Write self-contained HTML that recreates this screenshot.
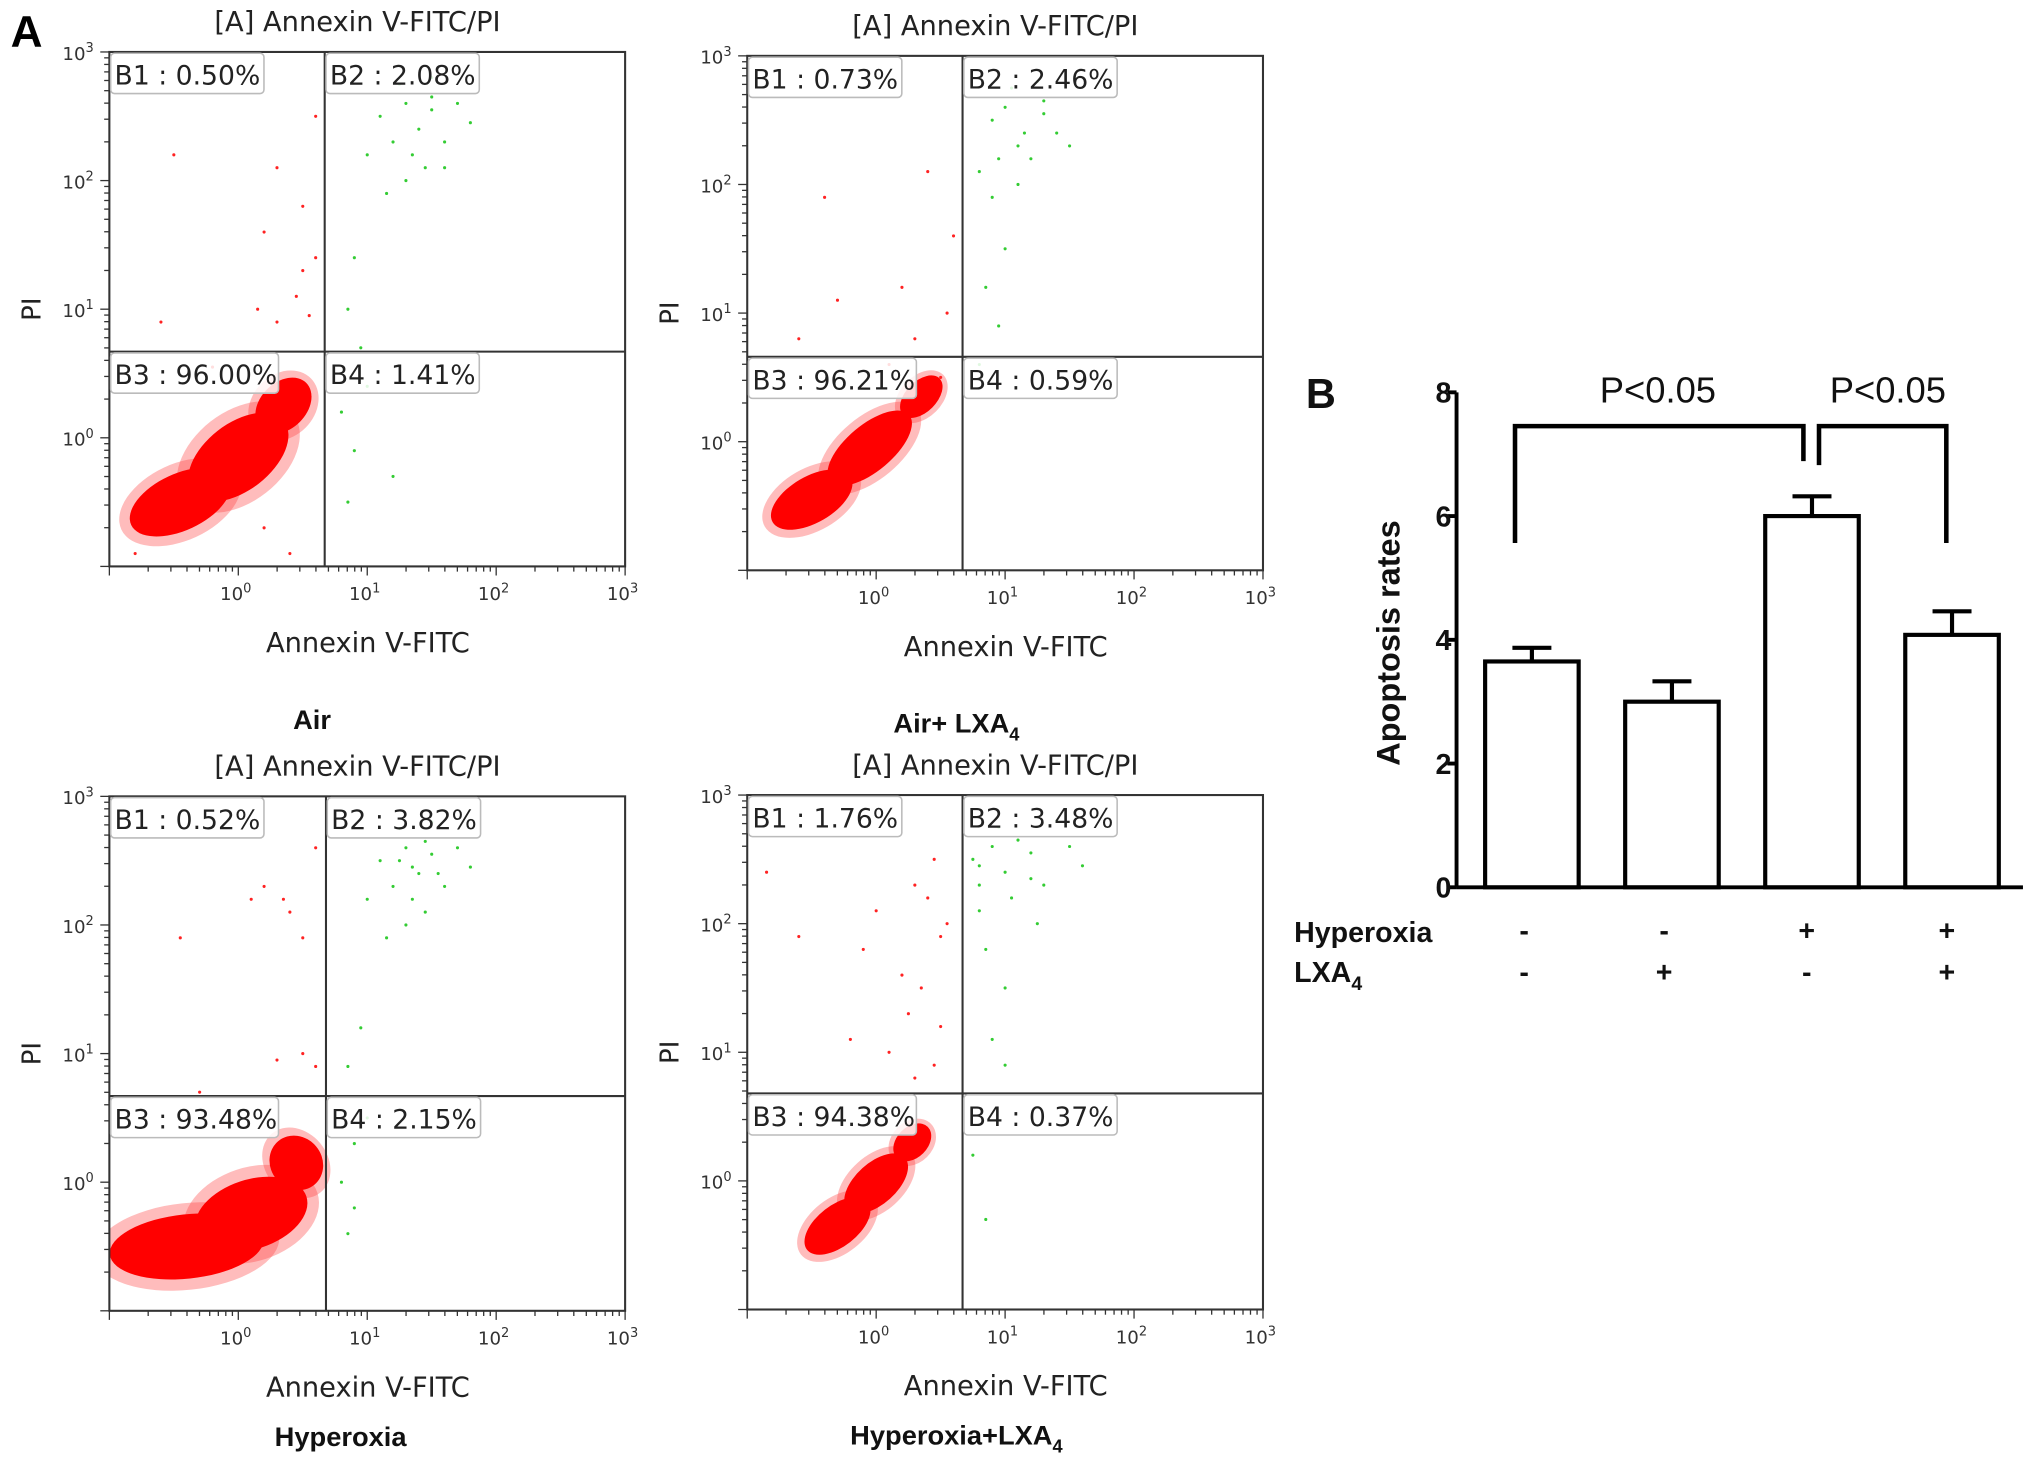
<!DOCTYPE html>
<html><head><meta charset="utf-8">
<style>
html,body{margin:0;padding:0;background:#fff;}
svg{display:block;}
.fl{font-family:"DejaVu Sans","Liberation Sans",sans-serif;}
.ar{font-family:"Liberation Sans",Arial,sans-serif;}
</style></head>
<body>
<svg id="fig" width="2031" height="1468" viewBox="0 0 1563 1130" xmlns="http://www.w3.org/2000/svg">
<defs><clipPath id="plotclip"><rect x="84" y="40" width="397" height="396"/></clipPath></defs>
<rect width="1563" height="1130" fill="#fff"/>
<text x="8" y="36" class="ar" font-size="34" font-weight="bold">A</text>
<g id="flows"></g>
<g id="bars"></g>
</svg>
<script>
// ---------- Flow cytometry panels ----------
var panelOffsets = [[0,0],[491,3],[0,573],[491,572]];
var panelGroupNames = ["Air","Air+ LXA","Hyperoxia","Hyperoxia+LXA"];
var panelGroupSub = ["","4","","4"];
var quadB1 = ["B1 : 0.50%","B1 : 0.73%","B1 : 0.52%","B1 : 1.76%"];
var quadB2 = ["B2 : 2.08%","B2 : 2.46%","B2 : 3.82%","B2 : 3.48%"];
var quadB3 = ["B3 : 96.00%","B3 : 96.21%","B3 : 93.48%","B3 : 94.38%"];
var quadB4 = ["B4 : 1.41%","B4 : 0.59%","B4 : 2.15%","B4 : 0.37%"];
var gateX = [0.67,0.67,0.68,0.67];
var gateY = [0.67,0.66,0.67,0.68];
// cloud ellipses: [log x, log y, rx(log), ry(log), rotation deg]
var clouds = [
 [[-0.45,-0.5,0.42,0.22,-25],[0.0,-0.15,0.45,0.26,-38],[0.35,0.25,0.25,0.18,-45]],
 [[-0.5,-0.45,0.35,0.18,-30],[-0.05,-0.05,0.4,0.18,-40],[0.35,0.35,0.2,0.12,-45]],
 [[-0.4,-0.5,0.6,0.25,-6],[0.1,-0.25,0.45,0.27,-18],[0.45,0.15,0.2,0.22,-40]],
 [[-0.3,-0.35,0.3,0.16,-38],[0.0,-0.02,0.3,0.16,-42],[0.28,0.3,0.17,0.12,-45]]
];
var redPts = [
 [[-0.5,2.2],[0.3,2.1],[0.5,1.8],[0.2,1.6],[0.6,1.4],[0.45,1.1],[0.3,0.9],[0.55,0.95],[-0.6,0.9],[0.6,2.5],[0.15,1.0],[-0.2,0.55],[0.5,1.3],[-0.8,-0.9],[0.4,-0.9],[0.2,-0.7]],
 [[-0.4,1.9],[0.4,2.1],[0.2,1.2],[0.55,1.0],[0.3,0.8],[-0.3,1.1],[0.6,1.6],[0.1,0.6],[0.5,0.5],[-0.6,0.8]],
 [[-0.45,1.9],[0.2,2.3],[0.4,2.1],[0.35,2.2],[0.5,1.9],[0.6,2.6],[0.3,0.95],[0.5,1.0],[0.6,0.9],[-0.3,0.7],[0.1,2.2]],
 [[-0.85,2.4],[-0.6,1.9],[0.0,2.1],[0.3,2.3],[0.4,2.2],[0.5,1.9],[0.45,2.5],[0.2,1.6],[0.25,1.3],[0.1,1.0],[0.45,0.9],[0.35,1.5],[-0.2,1.1],[0.55,2.0],[0.3,0.8],[0.5,1.2],[-0.1,1.8]]
];
var greenPts = [
 [[1.1,2.5],[1.3,2.6],[1.4,2.4],[1.5,2.55],[1.2,2.3],[1.35,2.2],[1.6,2.3],[1.7,2.6],[1.25,2.75],[1.5,2.8],[1.0,2.2],[1.45,2.1],[1.8,2.45],[1.15,1.9],[1.3,2.0],[0.9,1.4],[0.85,1.0],[0.95,0.7],[0.8,0.2],[0.9,-0.1],[1.0,0.4],[1.2,-0.3],[0.85,-0.5],[1.5,2.65],[1.6,2.1]],
 [[0.9,2.5],[1.0,2.6],[1.15,2.4],[1.3,2.55],[1.1,2.3],[0.95,2.2],[1.2,2.2],[1.4,2.4],[1.05,2.75],[1.25,2.8],[0.8,2.1],[1.5,2.3],[0.9,1.9],[1.0,1.5],[0.85,1.2],[0.95,0.9],[0.8,0.6],[1.1,2.0],[1.3,2.65]],
 [[1.1,2.5],[1.3,2.6],[1.4,2.4],[1.5,2.55],[1.2,2.3],[1.35,2.2],[1.6,2.3],[1.7,2.6],[1.25,2.75],[1.5,2.8],[1.0,2.2],[1.45,2.1],[1.8,2.45],[1.15,1.9],[1.3,2.0],[0.95,1.2],[0.85,0.9],[0.9,0.3],[0.8,0.0],[0.9,-0.2],[1.0,0.5],[0.85,-0.4],[1.35,2.45],[1.45,2.65],[1.55,2.4],[1.25,2.5]],
 [[0.75,2.5],[0.9,2.6],[1.0,2.4],[1.2,2.55],[0.8,2.3],[1.05,2.2],[1.3,2.3],[1.5,2.6],[0.95,2.75],[1.4,2.8],[0.8,2.1],[1.25,2.0],[1.6,2.45],[0.85,1.8],[1.0,1.5],[0.9,1.1],[1.0,0.9],[0.75,0.2],[0.85,-0.3],[1.1,2.65],[0.8,2.45],[1.2,2.35]]
];
var decadeLabels = ["0","1","2","3"];

var NS="http://www.w3.org/2000/svg";
function mk(tag,attrs,parent){var e=document.createElementNS(NS,tag);for(var k in attrs)e.setAttribute(k,attrs[k]);parent.appendChild(e);return e;}
var L=84,R=481,T=40,B=436;
function sx(v){return L+(v+1)*(R-L)/4;}
function sy(v){return B-(v+1)*(B-T)/4;}

var flows=document.getElementById('flows');
panelOffsets.forEach(function(off,i){
  var g=mk('g',{transform:'translate('+off[0]+','+off[1]+')'},flows);
  
  
  var t=mk('text',{x:275,y:24,'text-anchor':'middle','font-size':21,'class':'fl',fill:'#222'},g);
  t.textContent='[A] Annexin V-FITC/PI';
  
  
  var cg=mk('g',{'clip-path':'url(#plotclip)'},g);
  
  
  clouds[i].forEach(function(c){
    var cx=sx(c[0]),cy=sy(c[1]),rx=c[2]*(R-L)/4,ry=c[3]*(B-T)/4;
    mk('ellipse',{cx:cx,cy:cy,rx:rx*1.2,ry:ry*1.35,fill:'#ff4040',opacity:0.35,transform:'rotate('+c[4]+' '+cx+' '+cy+')'},cg);
  });
  clouds[i].forEach(function(c){
    var cx=sx(c[0]),cy=sy(c[1]),rx=c[2]*(R-L)/4,ry=c[3]*(B-T)/4;
    mk('ellipse',{cx:cx,cy:cy,rx:rx,ry:ry,fill:'#ff0000',transform:'rotate('+c[4]+' '+cx+' '+cy+')'},cg);
  });
  redPts[i].forEach(function(p){
    var c=mk('circle',{cx:sx(p[0]),cy:sy(p[1]),r:1.2,fill:'#f22'},g);
    
    
  });
  greenPts[i].forEach(function(p){
    var c=mk('circle',{cx:sx(p[0]),cy:sy(p[1]),r:1.2,fill:'#3c3'},g);
    
    
  });
  var fr=mk('rect',{x:L,y:T,width:R-L,height:B-T,fill:'none',stroke:'#333','stroke-width':1.6},g);
  
  
  var gx=sx(gateX[i]),gy=sy(gateY[i]);
  var vl=mk('line',{x1:gx,y1:T,x2:gx,y2:B,stroke:'#333','stroke-width':1.6},g);
  
  
  var hl=mk('line',{x1:L,y1:gy,x2:R,y2:gy,stroke:'#333','stroke-width':1.6},g);
  
  
  var labs=[[quadB1[i],L+1,T+1],[quadB2[i],gx+1,T+1],[quadB3[i],L+1,gy+1],[quadB4[i],gx+1,gy+1]];
  labs.forEach(function(lb,j){
    var w=lb[0].length*11.2+6;
    var bx=mk('rect',{x:lb[1],y:lb[2],width:w,height:31,rx:3,fill:'rgba(255,255,255,0.85)',stroke:'#bbb','stroke-width':1.2},g);
    
    
    var tx=mk('text',{x:lb[1]+3,y:lb[2]+24,'font-size':20.5,'class':'fl',fill:'#222'},g);
    tx.textContent=lb[0];
    
    
  });
  for(var d=-1;d<3;d++){
    for(var m=1;m<10;m++){
      var v=d+Math.log10(m);
      var len=(m==1)?7:4;
      mk('line',{x1:sx(v),y1:B,x2:sx(v),y2:B+len,stroke:'#333','stroke-width':1},g);
      mk('line',{x1:L,y1:sy(v),x2:L-len,y2:sy(v),stroke:'#333','stroke-width':1},g);
    }
  }
  mk('line',{x1:sx(3),y1:B,x2:sx(3),y2:B+7,stroke:'#333','stroke-width':1},g);
  mk('line',{x1:L,y1:sy(3),x2:L-7,y2:sy(3),stroke:'#333','stroke-width':1},g);
  decadeLabels.forEach(function(lbl,k){
    var v=k;
    var xt=mk('text',{x:sx(v)-2,y:B+26,'text-anchor':'middle','font-size':14,'class':'fl',fill:'#333'},g);
    xt.innerHTML='10<tspan dy="-6" font-size="10">'+lbl+'</tspan>';
    
    
    var yt=mk('text',{x:L-12,y:sy(v)+6,'text-anchor':'end','font-size':14,'class':'fl',fill:'#333'},g);
    yt.innerHTML='10<tspan dy="-6" font-size="10">'+lbl+'</tspan>';
    
    
  });
  var xa=mk('text',{x:283,y:502,'text-anchor':'middle','font-size':21,'class':'fl',fill:'#222'},g);
  xa.textContent='Annexin V-FITC';
  
  
  var ya=mk('text',{x:0,y:0,'text-anchor':'middle','font-size':20,'class':'fl',fill:'#222',transform:'translate(31,238) rotate(-90)'},g);
  ya.textContent='PI';
  
  
  var gn=mk('text',{x:(i%2==0)?(i==0?240:262):245,y:(i<2?561:540),'text-anchor':'middle','font-size':21,'font-weight':'bold','class':'ar',fill:'#111'},g);
  gn.innerHTML=panelGroupNames[i]+(panelGroupSub[i]?'<tspan dy="6" font-size="14">'+panelGroupSub[i]+'</tspan>':'');
  
  
});

// ---------- Bar chart B ----------
var barCats=["Air","Air+LXA4","Hyperoxia","Hyperoxia+LXA4"];
var barValues=[3.65,3.0,6.0,4.08];
var barErrors=[0.22,0.33,0.32,0.38];
var yTicks=[0,2,4,6,8];
var hyperoxiaSigns=["-","-","+","+"];
var lxaSigns=["-","+","-","+"];
var bars=document.getElementById('bars');
var AX=1121,AY0=683,AYT=302,AXR=1557;
function by(v){return AY0-(v/8)*(AY0-AYT);}
function bxc(i){return 1179+i*107.8;}
var bw=72;
mk('text',{x:1005,y:314,'font-size':32,'font-weight':'bold','class':'ar',fill:'#111'},bars).textContent='B';
var yAxis=mk('line',{x1:AX,y1:AYT,x2:AX,y2:AY0,stroke:'#000','stroke-width':3},bars);


var xAxis=mk('line',{x1:AX,y1:AY0,x2:AXR,y2:AY0,stroke:'#000','stroke-width':3},bars);


yTicks.forEach(function(t){
  mk('line',{x1:AX-7,y1:by(t),x2:AX,y2:by(t),stroke:'#000','stroke-width':3},bars);
  var tl=mk('text',{x:AX-4,y:by(t)+8,'text-anchor':'end','font-size':22,'font-weight':'bold','class':'ar',fill:'#111'},bars);
  tl.textContent=t;
  
  
});
var yt=mk('text',{x:0,y:0,'text-anchor':'middle','font-size':25,'font-weight':'bold','class':'ar',fill:'#111',transform:'translate(1077,495) rotate(-90)'},bars);
yt.textContent='Apoptosis rates';


barValues.forEach(function(v,i){
  var cx=bxc(i);
  var r=mk('rect',{x:cx-bw/2,y:by(v),width:bw,height:AY0-by(v),fill:'#fff',stroke:'#000','stroke-width':3.2},bars);
  
  
  var e=mk('path',{d:'M'+cx+' '+by(v)+'V'+by(v+barErrors[i])+'M'+(cx-15)+' '+by(v+barErrors[i])+'H'+(cx+15),stroke:'#000','stroke-width':3.2,fill:'none'},bars);
  
  
  var h=mk('text',{x:bxc(i)-6+(i>=2?2:0),y:724,'text-anchor':'middle','font-size':22,'font-weight':'bold','class':'ar',fill:'#111'},bars);
  h.textContent=hyperoxiaSigns[i];
  
  
  var l=mk('text',{x:bxc(i)-6+(i>=2?2:0),y:756,'text-anchor':'middle','font-size':22,'font-weight':'bold','class':'ar',fill:'#111'},bars);
  l.textContent=lxaSigns[i];
  
  
});
var hl=mk('text',{x:996,y:725,'font-size':22,'font-weight':'bold','class':'ar',fill:'#111'},bars);
hl.textContent='Hyperoxia';


var ll=mk('text',{x:996,y:756,'font-size':22,'font-weight':'bold','class':'ar',fill:'#111'},bars);
ll.innerHTML='LXA<tspan dy="6" font-size="15">4</tspan>';


var br1=mk('path',{d:'M1166 418V328H1388V355',stroke:'#000','stroke-width':3.5,fill:'none'},bars);


var br2=mk('path',{d:'M1400 358V328H1498V418',stroke:'#000','stroke-width':3.5,fill:'none'},bars);


var p1=mk('text',{x:1276,y:310,'text-anchor':'middle','font-size':28,'class':'ar',fill:'#111'},bars);
p1.textContent='P<0.05';


var p2=mk('text',{x:1453,y:310,'text-anchor':'middle','font-size':28,'class':'ar',fill:'#111'},bars);
p2.textContent='P<0.05';


</script>
</body></html>
